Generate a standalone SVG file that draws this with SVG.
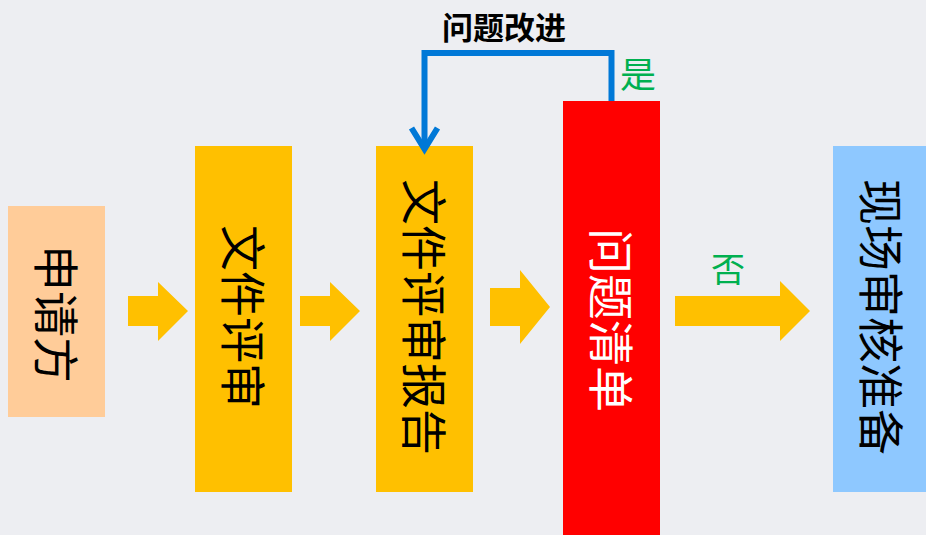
<svg xmlns="http://www.w3.org/2000/svg" width="926" height="535" viewBox="0 0 926 535">
<style>
.vt{font-family:"Noto Sans CJK SC","Liberation Sans",sans-serif;font-size:46px;text-anchor:middle;dominant-baseline:central}
.arrow{fill:#FFC000}
.lbl{font-family:"Noto Sans CJK SC","Liberation Sans",sans-serif;text-anchor:middle;dominant-baseline:central}
</style>
<rect x="0" y="0" width="926" height="535" fill="#EDEEF2"/>
<g id="n-applicant">
<rect x="8" y="206" width="97" height="211" fill="#FFCC99"/>
<text class="vt" transform="translate(59,314) rotate(90)" fill="#000">申请方</text>
</g>
<g id="n-docreview">
<rect x="195" y="146" width="97" height="346" fill="#FFC000"/>
<text class="vt" transform="translate(246,317) rotate(90)" fill="#000">文件评审</text>
</g>
<g id="n-report">
<rect x="376" y="146" width="97" height="346" fill="#FFC000"/>
<text class="vt" transform="translate(427,317) rotate(90)" fill="#000">文件评审报告</text>
</g>
<g id="n-issues">
<rect x="563" y="101" width="97" height="440" fill="#FF0000"/>
<text class="vt" transform="translate(614,320) rotate(90)" fill="#FFF">问题清单</text>
</g>
<g id="n-onsite">
<rect x="833" y="146" width="97" height="346" fill="#8EC8FF"/>
<text class="vt" transform="translate(884,317) rotate(90)" fill="#000">现场审核准备</text>
</g>
<g id="connectors">
<polygon class="arrow" points="128,296 158,296 158,282 188,311 158,341 158,326 128,326"/>
<polygon class="arrow" points="300,296 330,296 330,282 360,311 330,341 330,326 300,326"/>
<polygon class="arrow" points="490,288 520,288 520,270 550,307 520,344 520,326 490,326"/>
<polygon class="arrow" points="675,296 780,296 780,281 810,311 780,341 780,326 675,326"/>
<polyline points="611.5,101 611.5,53 424.5,53 424.5,147" fill="none" stroke="#0078D7" stroke-width="6"/>
<polyline points="411.5,128 424.5,149 437.5,128" fill="none" stroke="#0078D7" stroke-width="6"/>
<text class="lbl" x="504" y="25" font-size="31" font-weight="bold" fill="#000">问题改进</text>
<text class="lbl" x="638" y="72" font-size="36" fill="#00B050">是</text>
<text class="lbl" x="728" y="267" font-size="34" fill="#00B050">否</text>
</g>
</svg>
